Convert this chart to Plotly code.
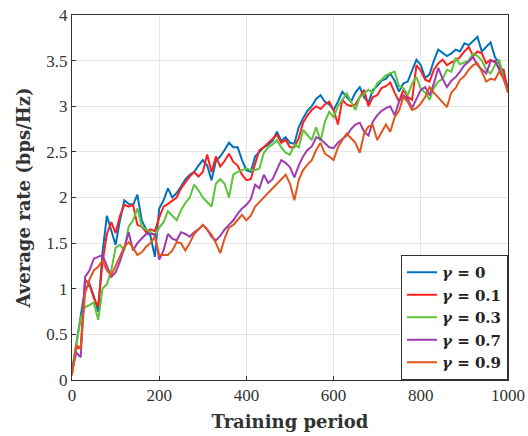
import plotly.graph_objects as go

periods = list(range(0, 1001, 10))

rate_g0 = [0.10, 0.40, 0.75, 1.00, 1.05, 0.92, 0.75, 1.40, 1.80, 1.65,
           1.48, 1.75, 1.97, 1.93, 1.92, 2.03, 1.75, 1.65, 1.58, 1.35,
           1.88, 1.97, 2.10, 2.00, 2.05, 2.12, 2.20, 2.25, 2.28, 2.35,
           2.41, 2.35, 2.19, 2.40, 2.45, 2.52, 2.60, 2.55, 2.55, 2.41,
           2.30, 2.28, 2.45, 2.50, 2.55, 2.58, 2.62, 2.72, 2.62, 2.66,
           2.60, 2.59, 2.77, 2.87, 2.95, 3.00, 3.08, 3.12, 3.05, 3.02,
           2.96, 3.05, 3.16, 3.10, 3.05, 3.15, 3.21, 3.10, 3.04, 3.18,
           3.22, 3.28, 3.30, 3.36, 3.28, 3.16, 3.25, 3.27, 3.40, 3.51,
           3.45, 3.31, 3.35, 3.50, 3.62, 3.58, 3.55, 3.58, 3.62, 3.60,
           3.69, 3.67, 3.72, 3.76, 3.60, 3.65, 3.70, 3.54, 3.47, 3.35,
           3.20]

rate_g01 = [0.08, 0.35, 0.35, 1.10, 1.05, 0.90, 0.80, 1.29, 1.60, 1.73,
            1.61, 1.80, 1.92, 1.90, 1.92, 1.70, 1.68, 1.62, 1.65, 1.63,
            1.78, 1.90, 1.93, 1.97, 2.00, 2.10, 2.17, 2.23, 2.28, 2.23,
            2.28, 2.47, 2.28, 2.45, 2.34, 2.40, 2.48, 2.39, 2.35, 2.25,
            2.19, 2.20, 2.37, 2.52, 2.55, 2.60, 2.65, 2.69, 2.60, 2.63,
            2.55, 2.55, 2.65, 2.82, 2.90, 2.96, 3.00, 2.97, 3.02, 3.05,
            2.96, 2.80, 3.07, 3.02, 3.00, 3.02, 3.10, 3.18, 3.00, 3.10,
            3.12, 3.20, 3.22, 3.26, 3.15, 3.05, 3.18, 3.10, 3.07, 3.45,
            3.39, 3.29, 3.27, 3.40, 3.47, 3.51, 3.45, 3.48, 3.50, 3.54,
            3.60, 3.65, 3.55, 3.60, 3.58, 3.47, 3.51, 3.48, 3.42, 3.40,
            3.15]

rate_g03 = [0.10, 0.40, 0.68, 0.80, 0.82, 0.85, 0.66, 1.00, 1.05, 1.20,
            1.45, 1.48, 1.42, 1.68, 1.75, 1.88, 1.68, 1.65, 1.62, 1.58,
            1.67, 1.73, 1.85, 1.80, 1.75, 1.86, 1.94, 2.00, 2.14, 2.08,
            2.00, 1.95, 1.90, 2.15, 2.20, 2.15, 2.00, 2.25, 2.28, 2.30,
            2.32, 2.30, 2.30, 2.32, 2.49, 2.55, 2.58, 2.63, 2.55, 2.49,
            2.47, 2.58, 2.55, 2.74, 2.68, 2.63, 2.77, 2.62, 2.83, 2.94,
            2.88, 3.00, 3.07, 3.14, 3.05, 2.96, 3.10, 3.14, 3.18, 3.15,
            3.25, 3.29, 3.34, 3.36, 3.38, 3.22, 3.20, 3.12, 3.25, 3.32,
            3.19, 3.15, 3.07, 3.20, 3.27, 3.30, 3.40, 3.38, 3.53, 3.46,
            3.48, 3.50, 3.58, 3.55, 3.50, 3.40, 3.36, 3.45, 3.51, 3.30,
            3.16]

rate_g07 = [0.10, 0.30, 0.25, 1.13, 1.20, 1.33, 1.35, 1.37, 1.25, 1.13,
            1.18, 1.30, 1.45, 1.62, 1.42, 1.50, 1.55, 1.60, 1.60, 1.60,
            1.32, 1.42, 1.60, 1.55, 1.53, 1.62, 1.60, 1.57, 1.62, 1.65,
            1.70, 1.65, 1.57, 1.53, 1.58, 1.65, 1.70, 1.75, 1.82, 1.88,
            1.92, 1.98, 2.14, 2.10, 2.25, 2.16, 2.20, 2.30, 2.41, 2.38,
            2.33, 2.22, 2.35, 2.45, 2.52, 2.56, 2.66, 2.64, 2.60, 2.55,
            2.54, 2.60, 2.64, 2.68, 2.75, 2.80, 2.82, 2.72, 2.68, 2.83,
            2.90, 2.95, 2.98, 3.00, 2.90, 3.05, 3.12, 3.08, 2.98, 3.08,
            3.18, 3.21, 3.12, 3.25, 3.42, 3.30, 3.21, 3.28, 3.32, 3.38,
            3.45, 3.49, 3.54, 3.45, 3.40, 3.36, 3.49, 3.50, 3.40, 3.30,
            3.20]

rate_g09 = [0.05, 0.38, 0.35, 0.95, 1.10, 1.20, 1.24, 1.31, 1.20, 1.15,
            1.25, 1.35, 1.46, 1.51, 1.45, 1.37, 1.40, 1.46, 1.50, 1.57,
            1.37, 1.37, 1.37, 1.42, 1.51, 1.50, 1.42, 1.50, 1.60, 1.65,
            1.70, 1.65, 1.59, 1.50, 1.39, 1.55, 1.67, 1.70, 1.75, 1.81,
            1.75, 1.80, 1.90, 1.95, 2.00, 2.05, 2.10, 2.15, 2.19, 2.25,
            2.15, 1.97, 2.19, 2.30, 2.36, 2.41, 2.52, 2.60, 2.48, 2.45,
            2.41, 2.55, 2.63, 2.70, 2.65, 2.60, 2.49, 2.70, 2.78, 2.79,
            2.63, 2.72, 2.80, 2.72, 2.88, 2.95, 3.10, 3.05, 2.96, 2.98,
            3.03, 3.10, 3.21, 3.15, 3.10, 3.05, 2.99, 3.15, 3.20, 3.29,
            3.33, 3.40, 3.45, 3.47, 3.38, 3.27, 3.30, 3.29, 3.38, 3.30,
            3.15]

series_names = ["<b><i>γ</i> = 0</b>", "<b><i>γ</i> = 0.1</b>", "<b><i>γ</i> = 0.3</b>",
                "<b><i>γ</i> = 0.7</b>", "<b><i>γ</i> = 0.9</b>"]
series_values = [rate_g0, rate_g01, rate_g03, rate_g07, rate_g09]
series_colors = ["#0072BD", "#FF1F1F", "#5CC33A", "#9E3BB0", "#E2561C"]

x_ticks = [0, 200, 400, 600, 800, 1000]
y_ticks = [0, 0.5, 1, 1.5, 2, 2.5, 3, 3.5, 4]
y_tick_labels = ["0", "0.5", "1", "1.5", "2", "2.5", "3", "3.5", "4"]

fig = go.Figure()
for name, vals, col in zip(series_names, series_values, series_colors):
    fig.add_trace(go.Scatter(x=periods, y=vals, mode="lines", name=name,
                             line=dict(color=col, width=2)))

axis_common = dict(showline=True, mirror=True, linecolor="#333333", linewidth=1,
                   showgrid=True, gridcolor="#E6E6E6", gridwidth=1,
                   ticks="inside", ticklen=4, tickcolor="#333333",
                   zeroline=False, automargin=False, ticklabeloverflow="allow",
                   tickfont=dict(family="Liberation Serif, serif", size=17, color="#333333"))

fig.update_xaxes(range=[0, 1000], tickvals=x_ticks,
                 title=dict(text="<b>Training period</b>", standoff=10,
                            font=dict(family="DejaVu Serif, serif", size=18, color="#333333")),
                 **axis_common)
fig.update_yaxes(range=[0, 4], tickvals=y_ticks, ticktext=y_tick_labels,
                 title=dict(text="<b>Average rate (bps/Hz)</b>", standoff=11,
                            font=dict(family="DejaVu Serif, serif", size=18, color="#333333")),
                 **axis_common)

fig.update_layout(
    width=528, height=436,
    margin=dict(l=72, r=20, t=15, b=56),
    paper_bgcolor="white", plot_bgcolor="white",
    showlegend=True,
    legend=dict(x=1, y=0, xanchor="right", yanchor="bottom",
                bgcolor="white", bordercolor="#333333", borderwidth=1,
                font=dict(family="DejaVu Serif, serif", size=15, color="#222222"),
                tracegroupgap=0, itemwidth=30),
)

fig.write_html("out.html",
               config={"displayModeBar": False},
               post_script="document.body.style.margin='0';document.body.style.overflow='hidden';")
